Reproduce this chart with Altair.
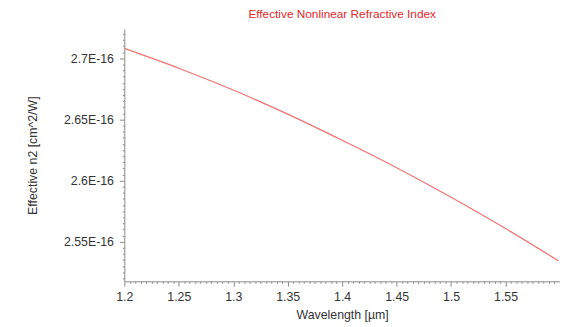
import altair as alt
import numpy as np
import pandas as pd

wavelength = [1.2, 1.25, 1.3, 1.35, 1.4, 1.45, 1.5, 1.55, 1.5987]
n2_e16 = [2.7081, 2.6919, 2.6740, 2.6543, 2.6329, 2.6105, 2.5863, 2.5607, 2.5342]

x_ticks = [round(v, 3) for v in np.arange(1.2, 1.5951, 0.005)]
y_ticks = [round(v, 3) for v in np.arange(2.52, 2.7231, 0.005)]

df = pd.DataFrame({"wl": wavelength, "n2": n2_e16})

FONT = "Liberation Sans"
GRAY = "#8a8a8a"
major = "abs(datum.value*20 - round(datum.value*20)) < 0.0001"

chart = alt.Chart(df).mark_line(color="#ee7272", strokeWidth=1.2, interpolate="monotone").encode(
    x=alt.X("wl:Q", title="Wavelength [µm]",
            scale=alt.Scale(domain=[1.2, 1.6], nice=False, zero=False),
            axis=alt.Axis(values=x_ticks, grid=False,
                          labelExpr=f"({major}) ? format(datum.value, '~g') : ''",
                          tickSize={"condition": {"test": major, "value": 5}, "value": 2},
                          labelPadding=4, titlePadding=6, labelFlush=False, labelOverlap=False)),
    y=alt.Y("n2:Q", title="Effective n2 [cm^2/W]",
            scale=alt.Scale(domain=[2.5175, 2.724], nice=False, zero=False),
            axis=alt.Axis(values=y_ticks, grid=False,
                          labelExpr=f"({major}) ? format(datum.value, '.2~f') + 'E-16' : ''",
                          tickSize={"condition": {"test": major, "value": 5}, "value": 2},
                          labelPadding=6, titlePadding=24, labelFlush=False, labelOverlap=False)),
).properties(
    width=442, height=256,
    title=alt.TitleParams("Effective Nonlinear Refractive Index", color="#e3262b",
                          font=FONT, fontSize=12, fontWeight="normal", anchor="middle", offset=7),
    autosize=alt.AutoSizeParams(type="none"),
    padding={"left": 118, "top": 19, "right": 0, "bottom": 40},
).configure_axis(
    labelFont=FONT, titleFont=FONT, labelFontSize=12.5, titleFontSize=12.5,
    labelColor="#333333", titleColor="#333333", titleFontWeight="normal",
    domainColor=GRAY, tickColor=GRAY,
).configure_view(stroke=None)

chart.save("out.html", embed_options={"renderer": "svg", "actions": False})
